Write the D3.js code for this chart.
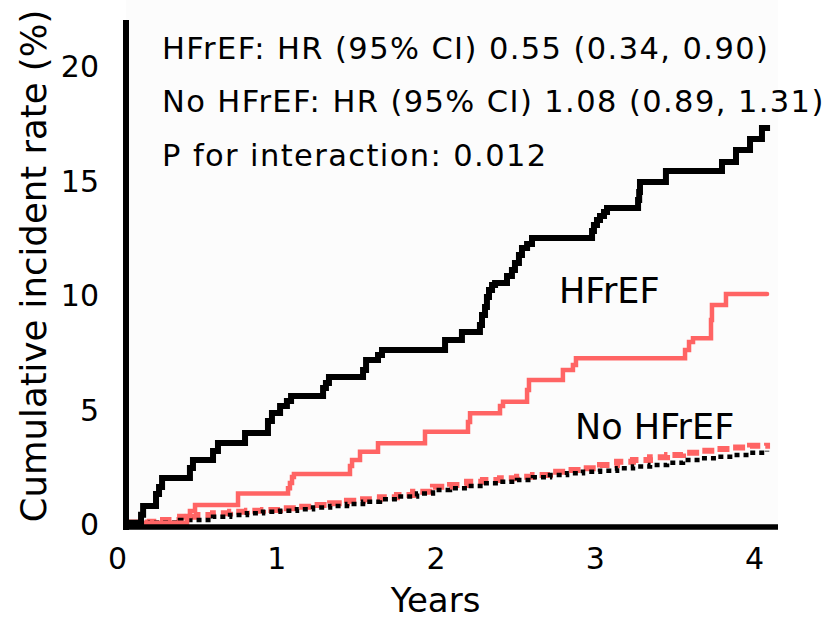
<!DOCTYPE html>
<html>
<head>
<meta charset="utf-8">
<script src="https://cdn.jsdelivr.net/npm/d3@7"></script>
<style>
  html, body { margin: 0; padding: 0; background: #ffffff; }
  svg { display: block; font-family: "DejaVu Sans", Verdana, sans-serif; }
</style>
</head>
<body>
<svg id="chart" width="838" height="620"></svg>
<script>
// ---- Data -------------------------------------------------------------
// Cumulative incidence (%) step curves: each value holds from its time onward.

// HFrEF, arm A (black solid)
const hfrefATime = [0.06, 0.151, 0.164, 0.245, 0.264, 0.283, 0.458, 0.477, 0.603, 0.634,
  0.804, 0.948, 0.973, 1.024, 1.067, 1.093, 1.294, 1.312, 1.331, 1.545, 1.564, 1.639, 1.664,
  2.06, 2.166, 2.279, 2.292, 2.311, 2.323, 2.336, 2.355, 2.374, 2.449, 2.48, 2.499, 2.524,
  2.543, 2.575, 2.606, 2.983, 2.995, 3.014, 3.033, 3.058, 3.077, 3.272, 3.279, 3.284, 3.447,
  3.799, 3.887, 3.975, 4.05, 4.082];
const hfrefAValue = [0.1, 0.45, 0.83, 1.35, 1.66, 2.05, 2.49, 2.84, 3.23, 3.58,
  4.02, 4.54, 4.89, 5.2, 5.41, 5.63, 5.98, 6.2, 6.46, 6.77, 7.21, 7.42, 7.64,
  8.08, 8.43, 8.73, 9.17, 9.52, 9.96, 10.26, 10.48, 10.57, 10.87, 11.14, 11.44, 11.79,
  12.1, 12.27, 12.53, 12.84, 13.1, 13.32, 13.49, 13.67, 13.84, 14.19, 14.54, 14.98, 15.46,
  15.85, 16.38, 16.86, 17.34, 17.47];

// HFrEF, arm B (red solid)
const hfrefBTime = [0.06, 0.44, 0.458, 0.49, 0.76, 1.074, 1.086, 1.099, 1.111, 1.463, 1.476,
  1.526, 1.639, 1.934, 2.204, 2.217, 2.405, 2.424, 2.575, 2.587, 2.8, 2.863, 2.882, 3.567,
  3.592, 3.617, 3.73, 3.736, 3.824, 4.082];
const hfrefBValue = [0.1, 0.39, 0.61, 0.87, 1.38, 1.6, 1.83, 2.1, 2.23, 2.58, 2.84,
  3.2, 3.57, 4.07, 4.5, 4.88, 5.2, 5.38, 5.9, 6.33, 6.77, 6.99, 7.28, 7.64,
  7.99, 8.15, 8.95, 9.61, 10.09, 10.09];

// No HFrEF, arm A (black dotted)
const noHfrefATime = [0.069, 0.207, 0.396, 0.603, 0.71, 0.816, 0.917, 1.024, 1.13, 1.231,
  1.338, 1.444, 1.545, 1.651, 1.758, 1.884, 1.984, 2.091, 2.198, 2.298, 2.405, 2.512, 2.612,
  2.719, 2.826, 2.926, 3.033, 3.14, 3.24, 3.347, 3.454, 3.554, 3.661, 3.768, 3.868, 3.975, 4.082];
const noHfrefAValue = [0.07, 0.11, 0.22, 0.36, 0.44, 0.51, 0.58, 0.62, 0.69, 0.76,
  0.83, 0.92, 1.02, 1.12, 1.24, 1.38, 1.53, 1.6, 1.7, 1.82, 1.89, 1.97, 2.08,
  2.18, 2.26, 2.33, 2.37, 2.48, 2.55, 2.62, 2.72, 2.84, 2.91, 2.98, 3.06, 3.16, 3.24];

// No HFrEF, arm B (red dashed)
const noHfrefBTime = [0.069, 0.207, 0.289, 0.396, 0.502, 0.603, 0.71, 0.816, 0.917, 1.024,
  1.13, 1.231, 1.338, 1.444, 1.545, 1.651, 1.758, 1.859, 1.984, 2.091, 2.198, 2.298, 2.405,
  2.512, 2.612, 2.719, 2.826, 2.926, 3.033, 3.14, 3.24, 3.347, 3.454, 3.554, 3.661, 3.768,
  3.868, 3.975, 4.082];
const noHfrefBValue = [0.11, 0.14, 0.22, 0.36, 0.44, 0.51, 0.58, 0.62, 0.66, 0.73,
  0.8, 0.87, 0.95, 1.06, 1.12, 1.21, 1.31, 1.45, 1.67, 1.75, 1.89, 1.97, 2.04,
  2.11, 2.18, 2.33, 2.4, 2.48, 2.62, 2.76, 2.84, 2.96, 3.06, 3.16, 3.24, 3.32,
  3.38, 3.46, 3.59];

const xTicks = [0, 1, 2, 3, 4];
const yTicks = [0, 5, 10, 15, 20];

const statLines = [
  "HFrEF: HR (95% CI) 0.55 (0.34, 0.90)",
  "No HFrEF: HR (95% CI) 1.08 (0.89, 1.31)",
  "P for interaction: 0.012"
];

// ---- Layout -------------------------------------------------------------
const svg = d3.select("#chart");
const plotLeft = 126, plotRight = 778, plotBottom = 527, plotTop = 20;
const red = "#ff6464";

const x = d3.scaleLinear().domain([0, 4]).range([117, 754]);
const y = d3.scaleLinear().domain([0, 20]).range([525, 67]);

// plot panel background
svg.append("rect")
  .attr("x", plotLeft).attr("y", 0)
  .attr("width", plotRight - plotLeft).attr("height", plotBottom + 3)
  .attr("fill", "#fcfcfc");

// ---- Curves -------------------------------------------------------------
const line = d3.line()
  .x(d => x(d[0]))
  .y(d => y(d[1]))
  .curve(d3.curveStepAfter);

const zip = (t, v) => t.map((ti, i) => [ti, v[i]]);

const series = [
  { t: noHfrefBTime, v: noHfrefBValue, color: red, width: 6, dash: "12,5", cap: "butt" },
  { t: noHfrefATime, v: noHfrefAValue, color: "#000", width: 4.5, dash: "5,4", cap: "butt" },
  { t: hfrefBTime, v: hfrefBValue, color: red, width: 4.5, dash: null, cap: "round" },
  { t: hfrefATime, v: hfrefAValue, color: "#000", width: 6, dash: null, cap: "butt" }
];

svg.append("g").selectAll("path")
  .data(series)
  .join("path")
  .attr("d", s => line(zip(s.t, s.v)))
  .attr("fill", "none")
  .attr("stroke", s => s.color)
  .attr("stroke-width", s => s.width)
  .attr("stroke-dasharray", s => s.dash)
  .attr("stroke-linecap", s => s.cap)
  .attr("stroke-linejoin", "miter");

// ---- Axes -------------------------------------------------------------
const xAxis = svg.append("g")
  .attr("transform", `translate(0,${plotBottom})`)
  .call(d3.axisBottom(x).tickValues(xTicks).tickSize(0).tickPadding(21).tickFormat(d3.format("d")));
xAxis.select(".domain").remove();
xAxis.selectAll("text")
  .attr("font-family", "DejaVu Sans, Verdana, sans-serif")
  .style("font-size", "30px").attr("fill", "#000");

const yAxis = svg.append("g")
  .attr("transform", `translate(${plotLeft},0)`)
  .call(d3.axisLeft(y).tickValues(yTicks).tickSize(0).tickPadding(27).tickFormat(d3.format("d")));
yAxis.select(".domain").remove();
yAxis.selectAll("text")
  .attr("font-family", "DejaVu Sans, Verdana, sans-serif")
  .style("font-size", "30px").attr("fill", "#000");

// heavy axis lines
svg.append("line")
  .attr("x1", plotLeft).attr("x2", plotLeft)
  .attr("y1", plotTop).attr("y2", plotBottom + 3)
  .attr("stroke", "#000").attr("stroke-width", 6);
svg.append("line")
  .attr("x1", plotLeft - 3).attr("x2", plotRight)
  .attr("y1", plotBottom).attr("y2", plotBottom)
  .attr("stroke", "#000").attr("stroke-width", 5.5);

// axis titles
svg.append("text")
  .attr("x", x(2)).attr("y", 612)
  .attr("text-anchor", "middle")
  .style("font-size", "34px")
  .text("Years");

svg.append("text")
  .attr("transform", "translate(46,266) rotate(-90)")
  .attr("text-anchor", "middle")
  .style("font-size", "35.5px")
  .text("Cumulative incident rate (%)");

// ---- Annotations ------------------------------------------------------
svg.append("g").selectAll("text")
  .data(statLines)
  .join("text")
  .attr("x", 162)
  .attr("y", (d, i) => [59, 112, 166][i])
  .style("font-size", "30.5px")
  .style("letter-spacing", "1.4px")
  .text(d => d);

svg.append("text")
  .attr("x", 559).attr("y", 303)
  .style("font-size", "35px")
  .text("HFrEF");

svg.append("text")
  .attr("x", 575).attr("y", 439)
  .style("font-size", "35px")
  .text("No HFrEF");
</script>
</body>
</html>
